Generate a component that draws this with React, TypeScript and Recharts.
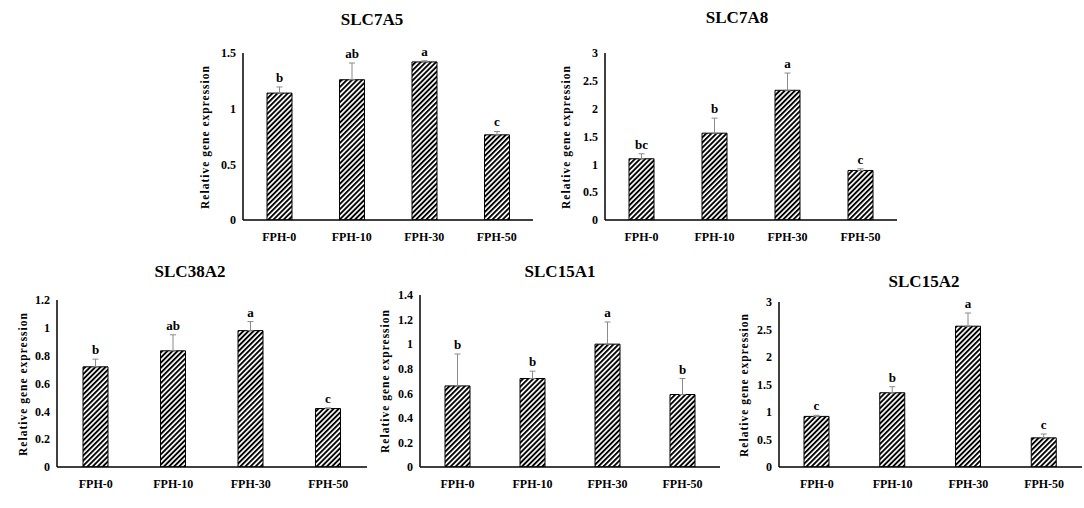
import { Bar, BarChart, ErrorBar, LabelList, XAxis, YAxis } from 'recharts';

const groups = ['FPH-0', 'FPH-10', 'FPH-30', 'FPH-50'];

// SLC7A5
const slc7a5Mean = [1.14, 1.26, 1.42, 0.765];
const slc7a5Err = [0.055, 0.15, 0.01, 0.03];
const slc7a5Sig = ['b', 'ab', 'a', 'c'];
const slc7a5Ticks = [0, 0.5, 1, 1.5];

// SLC7A8
const slc7a8Mean = [1.1, 1.56, 2.33, 0.89];
const slc7a8Err = [0.09, 0.27, 0.31, 0.03];
const slc7a8Sig = ['bc', 'b', 'a', 'c'];
const slc7a8Ticks = [0, 0.5, 1, 1.5, 2, 2.5, 3];

// SLC38A2
const slc38a2Mean = [0.72, 0.835, 0.98, 0.42];
const slc38a2Err = [0.055, 0.115, 0.065, 0.005];
const slc38a2Sig = ['b', 'ab', 'a', 'c'];
const slc38a2Ticks = [0, 0.2, 0.4, 0.6, 0.8, 1, 1.2];

// SLC15A1
const slc15a1Mean = [0.66, 0.72, 1.0, 0.59];
const slc15a1Err = [0.26, 0.06, 0.18, 0.13];
const slc15a1Sig = ['b', 'b', 'a', 'b'];
const slc15a1Ticks = [0, 0.2, 0.4, 0.6, 0.8, 1, 1.2, 1.4];

// SLC15A2
const slc15a2Mean = [0.92, 1.35, 2.56, 0.53];
const slc15a2Err = [0.02, 0.11, 0.24, 0.07];
const slc15a2Sig = ['c', 'b', 'a', 'c'];
const slc15a2Ticks = [0, 0.5, 1, 1.5, 2, 2.5, 3];

interface Panel {
  id: string;
  title: string;
  mean: number[];
  err: number[];
  sig: string[];
  ticks: number[];
}

const panels: Panel[] = [
  { id: 'p7a5', title: 'SLC7A5', mean: slc7a5Mean, err: slc7a5Err, sig: slc7a5Sig, ticks: slc7a5Ticks },
  { id: 'p7a8', title: 'SLC7A8', mean: slc7a8Mean, err: slc7a8Err, sig: slc7a8Sig, ticks: slc7a8Ticks },
  { id: 'p38a2', title: 'SLC38A2', mean: slc38a2Mean, err: slc38a2Err, sig: slc38a2Sig, ticks: slc38a2Ticks },
  { id: 'p15a1', title: 'SLC15A1', mean: slc15a1Mean, err: slc15a1Err, sig: slc15a1Sig, ticks: slc15a1Ticks },
  { id: 'p15a2', title: 'SLC15A2', mean: slc15a2Mean, err: slc15a2Err, sig: slc15a2Sig, ticks: slc15a2Ticks },
];

// page positions of each plot area, title and y-axis label (px)
const boxes = [
  { plotLeft: 243, plotRight: 533, plotTop: 53, plotBottom: 220, titleX: 372, titleY: 20, labelX: 205 },
  { plotLeft: 605, plotRight: 897, plotTop: 53, plotBottom: 220, titleX: 737, titleY: 18, labelX: 566 },
  { plotLeft: 57, plotRight: 367, plotTop: 300, plotBottom: 467, titleX: 190, titleY: 272, labelX: 23 },
  { plotLeft: 420, plotRight: 720, plotTop: 295, plotBottom: 467, titleX: 560, titleY: 272, labelX: 385 },
  { plotLeft: 779, plotRight: 1082, plotTop: 302, plotBottom: 467, titleX: 924, titleY: 282, labelX: 744 },
];

const FONT = 'Liberation Serif';
const AXIS_W = 45;
const X_H = 30;
const PAD_T = 24;

const tickStyle = { fill: '#000', fontSize: 12, fontWeight: 700, fontFamily: FONT };

function GenePanel({ panel, box }: { panel: Panel; box: (typeof boxes)[number] }) {
  const data = groups.map((g, i) => ({
    group: g,
    mean: panel.mean[i],
    err: [0, panel.err[i]],
    sig: panel.sig[i],
  }));
  const left = box.plotLeft - AXIS_W;
  const top = box.plotTop - PAD_T;
  const width = box.plotRight - left + 2;
  const height = box.plotBottom - top + X_H;
  const max = panel.ticks[panel.ticks.length - 1];

  // significance letter sits just above the error bar tip
  const renderSig = (props: any) => {
    const vb = props.viewBox ?? props;
    const i = props.index ?? 0;
    const pxPerUnit = vb.height / panel.mean[i];
    const tipY = vb.y - panel.err[i] * pxPerUnit;
    return (
      <text
        x={vb.x + vb.width / 2}
        y={tipY - 5}
        textAnchor="middle"
        fontSize={13}
        fontWeight={700}
        fontFamily={FONT}
        fill="#000"
      >
        {props.value}
      </text>
    );
  };

  return (
    <>
      <div
        style={{
          position: 'absolute',
          left: box.titleX,
          top: box.titleY,
          transform: 'translate(-50%, -50%)',
          fontFamily: FONT,
          fontWeight: 700,
          fontSize: 17,
          whiteSpace: 'nowrap',
        }}
      >
        {panel.title}
      </div>
      <div
        style={{
          position: 'absolute',
          left: box.labelX,
          top: (box.plotTop + box.plotBottom) / 2,
          transform: 'translate(-50%, -50%) rotate(-90deg)',
          fontFamily: FONT,
          fontWeight: 700,
          fontSize: 11.5,
          letterSpacing: 1,
          whiteSpace: 'nowrap',
        }}
      >
        Relative gene expression
      </div>
      <div style={{ position: 'absolute', left, top }}>
        <BarChart
          width={width}
          height={height}
          data={data}
          margin={{ top: PAD_T, right: 2, bottom: 0, left: 0 }}
          barSize={25}
        >
          <defs>
            <pattern
              id={`hatch-${panel.id}`}
              width={3.6}
              height={3.6}
              patternUnits="userSpaceOnUse"
              patternTransform="rotate(45)"
            >
              <rect width={3.6} height={3.6} fill="#fff" />
              <rect width={1.9} height={3.6} fill="#000" />
            </pattern>
          </defs>
          <XAxis
            dataKey="group"
            height={X_H}
            axisLine={{ stroke: '#000', strokeWidth: 1.5 }}
            tickLine={false}
            tickSize={0}
            tickMargin={12}
            tick={tickStyle}
            interval={0}
          />
          <YAxis
            width={AXIS_W}
            domain={[0, max]}
            ticks={panel.ticks}
            allowDataOverflow
            axisLine={{ stroke: '#000', strokeWidth: 1.5 }}
            tickLine={false}
            tickSize={0}
            tickMargin={7}
            tick={tickStyle}
          />
          <Bar
            dataKey="mean"
            fill={`url(#hatch-${panel.id})`}
            stroke="#000"
            strokeWidth={1}
            isAnimationActive={false}
          >
            <ErrorBar dataKey="err" direction="y" width={3} stroke="#8a8a8a" strokeWidth={1} />
            <LabelList dataKey="sig" content={renderSig} />
          </Bar>
        </BarChart>
      </div>
    </>
  );
}

export default function App() {
  return (
    <div
      style={{
        position: 'absolute',
        left: 0,
        top: 0,
        width: 1084,
        height: 508,
        background: '#fff',
        overflow: 'hidden',
      }}
    >
      {panels.map((p, i) => (
        <GenePanel key={p.id} panel={p} box={boxes[i]} />
      ))}
    </div>
  );
}
